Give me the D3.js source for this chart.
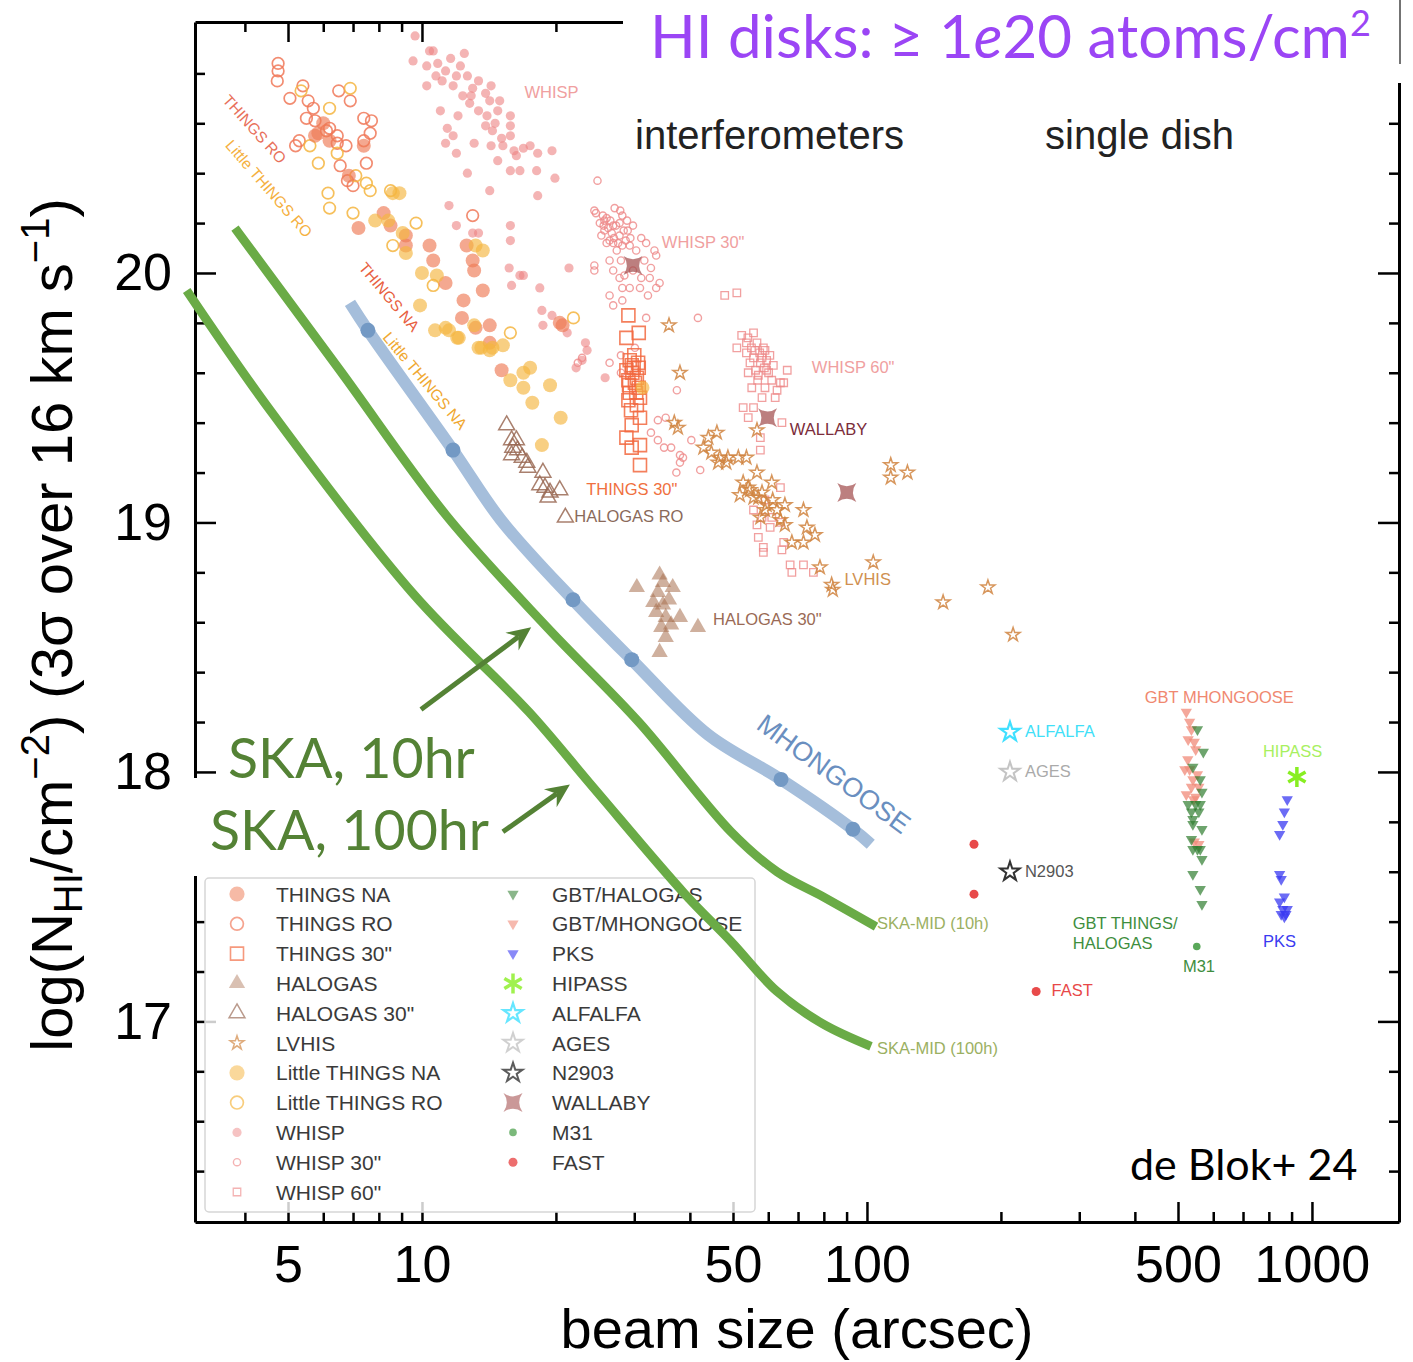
<!DOCTYPE html>
<html>
<head>
<meta charset="utf-8">
<script src="https://cdn.jsdelivr.net/npm/d3@7"></script>
<style>
  body { margin: 0; background: #fff; }
  svg { display: block; }
  text { font-family: "Liberation Sans", Arial, sans-serif; }
</style>
</head>
<body>
<svg id="chart"></svg>
<script>
// ---- data: [beam size (arcsec), log N_HI] ----
var thingsNA = [[5.85,20.56],[5.75,20.55],[6.0,20.6],[6.2,20.53],[7.4,20.51],[8.2,20.24],[7.2,20.18],[8.5,20.19],[9.2,20.11],
  [10.4,20.11],[10.6,20.05],[11.3,19.96],[12.6,20.11],[13.0,20.05],[13.1,20.01],[12.4,19.89],[13.7,19.93],[14.2,19.79],
  [15.1,19.61],[20.4,19.80],[6.85,20.39],[9.2,20.15],[20.7,19.79],[14.2,19.72],[12.3,19.82],[13.2,19.78]];
var thingsRO = [[4.75,20.84],[4.75,20.81],[4.73,20.77],[5.05,20.70],[5.4,20.75],[5.55,20.69],[5.7,20.66],[5.5,20.62],
  [5.75,20.61],[5.2,20.51],[6.2,20.58],[6.45,20.55],[6.45,20.52],[6.5,20.73],[6.9,20.69],[7.4,20.62],[7.7,20.61],
  [7.65,20.56],[7.4,20.53],[6.75,20.51],[6.55,20.43],[6.8,20.37],[7.0,20.35],[7.5,20.44],[13.0,20.23],[5.3,20.53],[6.1,20.57]];
var things30 = [[29.1,19.83],[30.7,19.76],[28.8,19.74],[29.6,19.63],[30.7,19.62],[28.8,19.61],[30.4,19.58],[29.1,19.57],
  [30.7,19.54],[29.3,19.52],[30.9,19.50],[29.1,19.49],[30.4,19.47],[30.9,19.42],[29.6,19.39],[28.8,19.34],[29.6,19.30],
  [30.9,19.31],[30.9,19.23],[30.0,19.67],[29.7,19.60],[30.1,19.56],[29.3,19.65],[29.9,19.62],[30.3,19.52],[29.5,19.45],
  [30.6,19.64],[29.2,19.55]];
var halogasRO = [[15.5,19.39],[15.9,19.33],[16.3,19.33],[16.0,19.30],[16.4,19.29],[15.9,19.27],[16.8,19.26],[17.2,19.24],
  [17.3,19.22],[18.7,19.20],[18.4,19.15],[18.9,19.14],[19.4,19.12],[20.4,19.13],[19.2,19.10]];
var halogas30 = [[30.4,18.74],[34.2,18.79],[36.6,18.74],[33.9,18.72],[33.1,18.68],[34.8,18.67],[35.9,18.69],[33.6,18.64],
  [35.3,18.62],[38.0,18.62],[36.3,18.59],[34.5,18.58],[41.7,18.58],[35.3,18.54],[34.2,18.48],[34.8,18.76]];
var lvhis = [[35.9,19.79],[38.0,19.60],[36.9,19.40],[37.6,19.38],[44.0,19.34],[46.0,19.36],[42.9,19.30],[44.7,19.28],
  [46.7,19.26],[48.7,19.26],[51.4,19.26],[53.6,19.26],[46.3,19.24],[48.3,19.24],[56.6,19.37],[56.6,19.20],[61.1,19.16],
  [52.7,19.16],[54.1,19.14],[51.8,19.11],[55.6,19.10],[58.1,19.12],[59.5,19.07],[62.8,19.05],[65.4,19.07],[63.9,19.01],
  [65.4,18.99],[72.0,19.05],[73.3,18.98],[76.4,18.95],[67.8,18.92],[72.0,18.92],[78.4,18.82],[83.3,18.75],[83.8,18.73],
  [103.3,18.84],[113.1,19.23],[113.1,19.18],[123.3,19.20],[187,18.74],[148.3,18.68],[213,18.55],
  [54.6,19.13],[57.0,19.10],[59.0,19.05],[61.4,19.09],[57.6,19.02]];
var littleNA = [[8.6,20.32],[8.9,20.32],[7.85,20.21],[8.4,20.21],[9.2,20.08],[10.0,20.00],[10.8,19.99],[9.9,19.87],
  [10.7,19.77],[11.5,19.77],[12.0,19.74],[13.1,19.79],[13.4,19.70],[14.2,19.69],[15.2,19.71],[17.5,19.62],[16.9,19.60],
  [13.2,20.11],[13.7,20.09],[9.05,20.16],[11.3,19.78],[12.1,19.74],[13.6,19.70],[14.4,19.70],[15.8,19.57],[16.9,19.54],
  [17.7,19.48],[19.4,19.55],[20.5,19.42],[18.6,19.31],[31.3,19.54]];
var littleRO = [[6.9,20.74],[6.2,20.66],[5.35,20.73],[5.6,20.51],[5.85,20.44],[6.15,20.32],[6.2,20.26],[7.0,20.24],
  [7.65,20.33],[8.5,20.33],[9.7,20.20],[8.6,20.11],[10.6,19.95],[15.8,19.76],[21.9,19.82],[6.45,20.48],[7.1,20.39],[7.5,20.36]];
var whisp = [[9.65,20.95],[10.4,20.89],[10.6,20.89],[9.55,20.85],[10.25,20.83],[10.85,20.84],[12.45,20.88],[10.75,20.79],
  [11.3,20.81],[11.95,20.79],[10.25,20.75],[11.1,20.77],[11.75,20.75],[12.65,20.79],[13.4,20.77],[14.3,20.75],[12.35,20.71],
  [12.9,20.71],[12.8,20.68],[13.4,20.65],[14.2,20.69],[14.95,20.69],[11.0,20.65],[12.05,20.63],[14.0,20.63],[14.8,20.65],
  [15.8,20.63],[13.9,20.59],[14.4,20.57],[15.8,20.59],[15.1,20.54],[15.8,20.55],[11.4,20.58],[11.75,20.55],[11.3,20.52],
  [13.1,20.52],[11.95,20.48],[14.3,20.51],[15.2,20.51],[16.1,20.49],[16.9,20.50],[17.5,20.51],[16.3,20.47],[18.2,20.48],
  [19.6,20.49],[14.8,20.45],[15.8,20.41],[16.6,20.41],[18.1,20.41],[19.9,20.38],[12.65,20.40],[14.2,20.33],[18.2,20.31],
  [11.5,20.27],[11.95,20.19],[15.8,20.19],[15.8,20.13],[13.0,20.16],[13.4,20.16],[21.4,20.02],[15.7,20.02],[16.6,19.99],
  [16.9,19.99],[15.9,19.95],[18.4,19.94],[18.6,19.85],[19.6,19.83],[18.7,19.79],[21.2,19.76],[23.3,19.72],[23.5,19.69],
  [22.9,19.65],[22.2,19.62],[25.8,19.58],[11.6,20.86],[12.2,20.83],[13.0,20.74],[13.9,20.72],[14.6,20.60]];
var whisp30 = [[24.6,20.24],[25.7,20.21],[27.1,20.26],[28.2,20.23],[25.7,20.17],[26.9,20.19],[25.3,20.15],[26.4,20.13],
  [27.8,20.15],[29.0,20.17],[29.8,20.19],[26.9,20.12],[26.0,20.12],[28.2,20.11],[29.3,20.11],[31.1,20.14],[31.9,20.12],
  [33.3,20.09],[33.6,20.07],[32.7,20.02],[31.6,20.05],[24.4,20.03],[24.4,20.01],[26.4,20.05],[26.9,20.01],[28.5,19.99],
  [29.8,20.01],[31.1,19.98],[32.5,19.98],[27.8,19.98],[34.2,19.96],[33.6,19.94],[30.9,19.94],[29.3,19.94],[28.2,19.94],
  [26.4,19.91],[28.2,19.89],[32.2,19.91],[26.9,19.87],[41.7,19.82],[31.9,19.82],[30.1,19.70],[28.0,19.67],[26.4,19.64],
  [28.0,19.60],[37.4,19.53],[33.9,19.41],[35.3,19.42],[32.7,19.36],[33.9,19.33],[35.0,19.30],[36.3,19.30],[38.0,19.27],
  [38.6,19.26],[40.3,19.33],[38.0,19.24],[37.3,19.20],[42.2,19.21],[24.8,20.37],[24.4,20.25],[25.5,20.23],[22.4,19.64],
  [22.9,19.66],[27.3,20.19],[26.7,20.16],[27.8,20.20],[28.7,20.13],[26.2,20.18],[27.4,20.09],
  [26.0,20.22],[27.0,20.14],[28.4,20.17],[25.6,20.19],[27.6,20.12],[26.5,20.21],[28.9,20.21],[25.1,20.20],
  [27.9,20.25],[29.4,20.14],[30.3,20.09],[28.0,20.05]];
var whisp60 = [[52.3,19.75],[55.6,19.76],[51.0,19.70],[53.6,19.72],[56.6,19.72],[59.0,19.69],[53.6,19.68],[55.6,19.66],
  [59.5,19.65],[61.6,19.63],[66.2,19.61],[54.1,19.60],[57.0,19.59],[61.1,19.57],[63.9,19.56],[55.1,19.54],[62.8,19.53],
  [65.0,19.56],[58.1,19.50],[62.2,19.50],[52.7,19.46],[55.6,19.46],[54.1,19.42],[64.4,19.40],[57.6,19.34],[57.6,19.29],
  [47.9,19.91],[51.0,19.92],[58.5,19.70],[57.6,19.64],[59.5,19.61],[63.9,19.14],[55.6,19.05],[59.0,19.09],[58.1,19.02],
  [60.6,18.98],[56.6,18.99],[57.0,18.94],[58.5,18.90],[58.5,18.88],[64.4,18.89],[65.0,18.92],[67.2,18.83],[67.8,18.80],
  [72.0,18.83],[75.8,18.80],[61.1,19.02],[63.9,19.00],[56.0,19.69],[58.1,19.66],[54.6,19.64],[60.1,19.60],[56.8,19.57],[59.0,19.54],
  [54.0,19.74],[57.4,19.68],[60.5,19.67],[55.0,19.70],[58.8,19.62],[56.2,19.61]];
var gbtHalogas = [[553,18.17],[570,18.08],[540,18.02],[561,17.97],[566,17.92],[548,17.87],[536,17.84],[540,17.81],
  [566,17.77],[536,17.73],[553,17.69],[540,17.69],[561,17.69],[566,17.65],[540,17.59],[561,17.53],[566,17.47],
  [561,17.87],[527,17.87],[557,17.84],[540,17.79]];
var gbtMhongoose = [[522,18.24],[531,18.20],[536,18.17],[527,18.13],[544,18.12],[548,18.09],[531,18.01],[553,17.99],
  [540,17.97],[522,17.91],[548,17.90],[557,17.94],[536,17.94],[557,17.71],[544,17.72],[518,18.01],[526,18.05],[542,17.89]];
var pks = [[880,17.89],[867,17.84],[860,17.79],[846,17.75],[846,17.59],[853,17.57],[867,17.50],[846,17.48],[860,17.45],
  [880,17.45],[867,17.42],[853,17.43],[874,17.43]];
var hipass = [[925,17.98]];
var alfalfa = [[209.6,18.16]];
var ages = [[209.6,18.00]];
var n2903 = [[209.6,17.60]];
var wallaby = [[29.8,20.03],[59.8,19.42],[90.1,19.12]];
var m31 = [[551,17.30]];
var fast = [[174,17.71],[174,17.51],[240,17.12]];

var mhongooseLine = [[6.89,19.88],[7.56,19.77],[11.74,19.29],[15.05,19.01],[21.85,18.69],[29.6,18.45],
  [43.9,18.15],[64.1,17.97],[93.0,17.77],[102,17.71]];
var mhongooseDots = [[7.56,19.77],[11.74,19.29],[21.85,18.69],[29.6,18.45],[64.1,17.97],[93.0,17.77]];
var ska10 = [[3.80,20.18],[6.54,19.61],[11.32,19.03],[19.1,18.58],[30.7,18.20],[49.5,17.76],[62.8,17.60],[79.6,17.50],[104.8,17.38]];
var ska100 = [[2.96,19.93],[4.60,19.44],[9.60,18.71],[17.4,18.24],[24.2,17.94],[39.0,17.51],[49.5,17.32],[62.8,17.12],[79.6,16.99],[102.1,16.90]];

var xMajor = [5, 10, 50, 100, 500, 1000];
var xMinor = [4, 6, 7, 8, 9, 20, 30, 40, 60, 70, 80, 90, 200, 300, 400, 600, 700, 800, 900];
var yMajor = [17, 18, 19, 20];
var yMinor = [16.4, 16.6, 16.8, 17.2, 17.4, 17.6, 17.8, 18.2, 18.4, 18.6, 18.8, 19.2, 19.4, 19.6, 19.8, 20.2, 20.4, 20.6, 20.8];

// ---- layout ----
var width = 1413, height = 1362;
var plot = { left: 195, right: 1399, top: 22, bottom: 1222 };
var slideFont = "Lato, 'Open Sans', sans-serif";

var svg = d3.select("#chart").attr("width", width).attr("height", height);

var xScale = d3.scaleLog().domain([3.09, 1569]).range([plot.left, plot.right]);
var yScale = d3.scaleLinear().domain([16.196, 21.006]).range([plot.bottom, plot.top]);

function styleAxis(g, showDomain) {
  g.select(".domain").attr("stroke", showDomain ? "#000" : "none").attr("stroke-width", 3);
  g.selectAll(".tick line").attr("stroke", "#000").attr("stroke-width", 2.5);
  g.selectAll(".tick text").attr("font-size", 52).attr("fill", "#000");
}

// bottom
svg.append("g").attr("transform", "translate(0," + plot.bottom + ")")
  .call(d3.axisBottom(xScale).tickValues(xMinor).tickSize(-10).tickSizeOuter(0).tickFormat(""))
  .call(styleAxis, false);
svg.append("g").attr("transform", "translate(0," + plot.bottom + ")")
  .call(d3.axisBottom(xScale).tickValues(xMajor).tickSize(-20).tickSizeOuter(0).tickPadding(23).tickFormat(d3.format("d")))
  .call(styleAxis, true);
// top
svg.append("g").attr("transform", "translate(0," + plot.top + ")")
  .call(d3.axisTop(xScale).tickValues(xMinor).tickSize(-10).tickSizeOuter(0).tickFormat(""))
  .call(styleAxis, false);
svg.append("g").attr("transform", "translate(0," + plot.top + ")")
  .call(d3.axisTop(xScale).tickValues(xMajor).tickSize(-20).tickSizeOuter(0).tickFormat(""))
  .call(styleAxis, true);
// left
svg.append("g").attr("transform", "translate(" + plot.left + ",0)")
  .call(d3.axisLeft(yScale).tickValues(yMinor).tickSize(-10).tickSizeOuter(0).tickFormat(""))
  .call(styleAxis, false);
svg.append("g").attr("transform", "translate(" + plot.left + ",0)")
  .call(d3.axisLeft(yScale).tickValues(yMajor).tickSize(-21).tickSizeOuter(0).tickPadding(23).tickFormat(d3.format("d")))
  .call(styleAxis, true);
// right
svg.append("g").attr("transform", "translate(" + plot.right + ",0)")
  .call(d3.axisRight(yScale).tickValues(yMinor).tickSize(-10).tickSizeOuter(0).tickFormat(""))
  .call(styleAxis, false);
svg.append("g").attr("transform", "translate(" + plot.right + ",0)")
  .call(d3.axisRight(yScale).tickValues(yMajor).tickSize(-21).tickSizeOuter(0).tickFormat(""))
  .call(styleAxis, true);

// axis titles
svg.append("text").attr("x", 797).attr("y", 1348).attr("text-anchor", "middle")
  .attr("font-size", 56).text("beam size (arcsec)");

var ylab = svg.append("text").attr("transform", "translate(72,625) rotate(-90)")
  .attr("text-anchor", "middle").attr("font-size", 58);
ylab.append("tspan").text("log(N");
ylab.append("tspan").attr("font-size", 40).attr("dy", 10).text("HI");
ylab.append("tspan").attr("dy", -10).text("/cm");
ylab.append("tspan").attr("font-size", 40).attr("dy", -23).text("\u22122");
ylab.append("tspan").attr("dy", 23).text(") (3\u03c3 over 16 km s");
ylab.append("tspan").attr("font-size", 40).attr("dy", -23).text("\u22121");
ylab.append("tspan").attr("dy", 23).text(")");

// ---- markers ----
function shapePath(shape, s) {
  if (shape === "circle") return d3.symbol().type(d3.symbolCircle).size(Math.PI * s * s)();
  if (shape === "tri") return d3.symbol().type(d3.symbolTriangle).size(s)();
  if (shape === "star") return d3.symbol().type(d3.symbolStar).size(s)();
  if (shape === "blob") return d3.symbol().type(d3.symbolTriangle).size(s)();
  if (shape === "square") { var h = s / 2; return "M" + (-h) + "," + (-h) + "h" + s + "v" + s + "h" + (-s) + "Z"; }
  if (shape === "astroid") {
    var r = s, k = r * 0.3;
    return "M" + (-r) + "," + (-r) + "Q0," + (-k) + " " + r + "," + (-r) + "Q" + k + ",0 " + r + "," + r +
      "Q0," + k + " " + (-r) + "," + r + "Q" + (-k) + ",0 " + (-r) + "," + (-r) + "Z";
  }
  if (shape === "asterisk") {
    var p = "";
    [90, 30, -30].forEach(function(a) {
      var dx = s * Math.cos(a * Math.PI / 180), dy = s * Math.sin(a * Math.PI / 180);
      p += "M" + (-dx) + "," + (-dy) + "L" + dx + "," + dy;
    });
    return p;
  }
}

function drawMarks(g, data, st) {
  g.selectAll(null).data(data).enter().append("path")
    .attr("d", shapePath(st.shape, st.size))
    .attr("transform", function(d) {
      return "translate(" + xScale(d[0]) + "," + yScale(d[1]) + ")" + (st.shape === "blob" ? " rotate(180)" : "");
    })
    .attr("fill", st.filled ? st.color : "none")
    .attr("stroke", st.filled ? "none" : st.color)
    .attr("stroke-width", st.sw || 1.5)
    .attr("opacity", st.alpha || 1);
}

var styles = {
  whisp: { shape: "circle", size: 4.6, color: "#ec8282", filled: true, alpha: 0.6 },
  whisp30: { shape: "circle", size: 3.6, color: "#ee8888", filled: false, sw: 1.4, alpha: 0.8 },
  whisp60: { shape: "square", size: 7.5, color: "#ee8888", filled: false, sw: 1.3, alpha: 0.8 },
  lvhis: { shape: "star", size: 60, color: "#d08440", filled: false, sw: 1.5, alpha: 0.85 },
  things30: { shape: "square", size: 13, color: "#f2693f", filled: false, sw: 1.6, alpha: 0.85 },
  thingsRO: { shape: "circle", size: 5.8, color: "#f07858", filled: false, sw: 1.7, alpha: 0.85 },
  littleRO: { shape: "circle", size: 5.8, color: "#f5b53f", filled: false, sw: 1.7, alpha: 0.85 },
  thingsNA: { shape: "circle", size: 7, color: "#ee7a55", filled: true, alpha: 0.65 },
  littleNA: { shape: "circle", size: 7, color: "#f5b53f", filled: true, alpha: 0.65 },
  halogas30: { shape: "tri", size: 115, color: "#a8704f", filled: true, alpha: 0.55 },
  halogasRO: { shape: "tri", size: 110, color: "#9a6a55", filled: false, sw: 1.5, alpha: 0.85 },
  wallaby: { shape: "astroid", size: 9.5, color: "#a04848", filled: true, alpha: 0.7 },
  gbtHalogas: { shape: "blob", size: 55, color: "#2f7d2f", filled: true, alpha: 0.7 },
  gbtMhongoose: { shape: "blob", size: 55, color: "#f08a78", filled: true, alpha: 0.75 },
  pks: { shape: "blob", size: 55, color: "#3a3af2", filled: true, alpha: 0.75 },
  hipass: { shape: "asterisk", size: 10, color: "#88ee22", filled: false, sw: 3.5 },
  alfalfa: { shape: "star", size: 115, color: "#40e0ff", filled: false, sw: 2.2 },
  ages: { shape: "star", size: 115, color: "#c4c4c4", filled: false, sw: 2 },
  n2903: { shape: "star", size: 115, color: "#333333", filled: false, sw: 2 },
  m31: { shape: "circle", size: 3.8, color: "#5aa85a", filled: true },
  fast: { shape: "circle", size: 4.5, color: "#e84a4a", filled: true }
};

var marks = svg.append("g");
drawMarks(marks, whisp, styles.whisp);
drawMarks(marks, whisp30, styles.whisp30);
drawMarks(marks, whisp60, styles.whisp60);
drawMarks(marks, lvhis, styles.lvhis);
drawMarks(marks, things30, styles.things30);
drawMarks(marks, thingsRO, styles.thingsRO);
drawMarks(marks, littleRO, styles.littleRO);
drawMarks(marks, thingsNA, styles.thingsNA);
drawMarks(marks, littleNA, styles.littleNA);
drawMarks(marks, halogas30, styles.halogas30);
drawMarks(marks, halogasRO, styles.halogasRO);
drawMarks(marks, wallaby, styles.wallaby);
drawMarks(marks, gbtMhongoose, styles.gbtMhongoose);
drawMarks(marks, gbtHalogas, styles.gbtHalogas);
drawMarks(marks, pks, styles.pks);
drawMarks(marks, hipass, styles.hipass);
drawMarks(marks, alfalfa, styles.alfalfa);
drawMarks(marks, ages, styles.ages);
drawMarks(marks, n2903, styles.n2903);
drawMarks(marks, m31, styles.m31);
drawMarks(marks, fast, styles.fast);

var line = d3.line().x(function(d) { return xScale(d[0]); }).y(function(d) { return yScale(d[1]); })
  .curve(d3.curveCatmullRom);

// MHONGOOSE sensitivity curve
svg.append("path").datum(mhongooseLine).attr("d", line).attr("fill", "none")
  .attr("stroke", "#a5bedb").attr("stroke-width", 12);
svg.selectAll(".mdot").data(mhongooseDots).enter().append("circle").attr("class", "mdot")
  .attr("cx", function(d) { return xScale(d[0]); }).attr("cy", function(d) { return yScale(d[1]); })
  .attr("r", 7.5).attr("fill", "#7399c4");

// ---- legend ----
var legendLeft = [["THINGS NA", styles.thingsNA], ["THINGS RO", styles.thingsRO], ["THINGS 30\"", styles.things30],
  ["HALOGAS", styles.halogas30], ["HALOGAS 30\"", styles.halogasRO], ["LVHIS", styles.lvhis],
  ["Little THINGS NA", styles.littleNA], ["Little THINGS RO", styles.littleRO], ["WHISP", styles.whisp],
  ["WHISP 30\"", styles.whisp30], ["WHISP 60\"", styles.whisp60]];
var legendRight = [["GBT/HALOGAS", styles.gbtHalogas], ["GBT/MHONGOOSE", styles.gbtMhongoose], ["PKS", styles.pks],
  ["HIPASS", styles.hipass], ["ALFALFA", styles.alfalfa], ["AGES", styles.ages], ["N2903", styles.n2903],
  ["WALLABY", styles.wallaby], ["M31", styles.m31], ["FAST", styles.fast]];

var legend = svg.append("g");
legend.append("rect").attr("x", 205).attr("y", 878).attr("width", 550).attr("height", 334).attr("rx", 4)
  .attr("fill", "#fff").attr("fill-opacity", 0.8).attr("stroke", "#d6d6d6").attr("stroke-width", 1.5);
[[legendLeft, 237, 276], [legendRight, 513, 552]].forEach(function(col) {
  col[0].forEach(function(item, i) {
    var cy = 894 + i * 29.8;
    var st = item[1];
    legend.append("path").attr("d", shapePath(st.shape, st.shape === "circle" && st.size > 5 ? st.size + 0.6 : st.size))
      .attr("transform", "translate(" + col[1] + "," + cy + ")" + (st.shape === "blob" ? " rotate(180)" : ""))
      .attr("fill", st.filled ? st.color : "none").attr("stroke", st.filled ? "none" : st.color)
      .attr("stroke-width", st.sw || 1.5).attr("opacity", (st.alpha || 1) * 0.8);
    legend.append("text").attr("x", col[2]).attr("y", cy).attr("dy", "0.36em")
      .attr("font-size", 21).attr("fill", "#3a3a3a").text(item[0]);
  });
});

// SKA-MID curves
svg.append("path").datum(ska10).attr("d", line).attr("fill", "none").attr("stroke", "#6aab46").attr("stroke-width", 9);
svg.append("path").datum(ska100).attr("d", line).attr("fill", "none").attr("stroke", "#6aab46").attr("stroke-width", 9);

// ---- labels ----
function label(txt, b, v, color, size, rot) {
  var t = svg.append("text").attr("font-size", size || 16.5).attr("fill", color).text(txt);
  if (rot) t.attr("transform", "translate(" + xScale(b) + "," + yScale(v) + ") rotate(" + rot + ")");
  else t.attr("x", xScale(b)).attr("y", yScale(v));
  return t;
}
label("WHISP", 17.0, 20.70, "#f0a0a0");
label("WHISP 30\"", 34.6, 20.10, "#f0a0a0");
label("WHISP 60\"", 75.2, 19.60, "#f0a0a0");
label("WALLABY", 67.1, 19.35, "#7b2d3b");
label("THINGS 30\"", 23.4, 19.11, "#f07040");
label("HALOGAS RO", 22.0, 19.00, "#8a6a5a");
drawMarks(svg.append("g"), [[21.0, 19.02]], styles.halogasRO);
label("HALOGAS 30\"", 45.1, 18.59, "#9a6a55");
label("LVHIS", 89, 18.75, "#d09050");
label("GBT MHONGOOSE", 421, 18.277, "#f08870");
label("ALFALFA", 226.5, 18.14, "#40e0f8");
label("AGES", 226.5, 17.98, "#aaaaaa");
label("N2903", 226.5, 17.58, "#555555");
label("HIPASS", 776, 18.06, "#a8f060");
label("GBT THINGS/", 290, 17.37, "#3e8e3e");
label("HALOGAS", 290, 17.29, "#3e8e3e");
label("M31", 513, 17.20, "#3e8e3e");
label("PKS", 776, 17.30, "#3a3af0");
label("FAST", 260, 17.10, "#e84848");
label("SKA-MID (10h)", 105.3, 17.37, "#9bb062");
label("SKA-MID (100h)", 105.3, 16.87, "#9bb062");
label("THINGS RO", 3.55, 20.69, "#e8705a", 15.5, 48);
label("Little THINGS RO", 3.6, 20.51, "#f5b040", 15.5, 49);
label("THINGS NA", 7.18, 20.02, "#e8603f", 15.5, 50);
label("Little THINGS NA", 8.13, 19.74, "#f0a830", 15.5, 50);
label("MHONGOOSE", 56.0, 18.176, "#6a8fc0", 27, 36);

svg.append("text").attr("x", 635).attr("y", 149).attr("font-size", 40).attr("fill", "#222").text("interferometers");
svg.append("text").attr("x", 1045).attr("y", 149).attr("font-size", 40).attr("fill", "#222").text("single dish");

// ---- overlay boxes and slide annotations ----
svg.append("rect").attr("x", 623).attr("y", 0).attr("width", 790).attr("height", 83).attr("fill", "#fff");
svg.append("line").attr("x1", 1400).attr("x2", 1400).attr("y1", 0).attr("y2", 64).attr("stroke", "#444").attr("stroke-width", 1.5);
svg.append("rect").attr("x", 185).attr("y", 778).attr("width", 315).attr("height", 98).attr("fill", "#fff");

var title = svg.append("text").attr("x", 650).attr("y", 58).attr("font-size", 60).attr("fill", "#9b45f5")
  .style("font-family", slideFont);
title.append("tspan").text("HI disks: \u2265 1");
title.append("tspan").attr("font-style", "italic").text("e");
title.append("tspan").text("20 atoms/cm");
title.append("tspan").attr("font-size", 36).attr("dy", -22).text("2");

svg.append("text").attr("x", 228).attr("y", 778).attr("font-size", 55.5).attr("fill", "#548235")
  .style("font-family", slideFont).text("SKA, 10hr");
svg.append("text").attr("x", 210).attr("y", 850).attr("font-size", 55.5).attr("fill", "#548235")
  .style("font-family", slideFont).text("SKA, 100hr");
svg.append("text").attr("x", 1130).attr("y", 1180).attr("font-size", 43).attr("fill", "#000")
  .style("font-family", slideFont).text("de Blok+ 24");

// arrows
function arrow(from, to) {
  var x1 = xScale(from[0]), y1 = yScale(from[1]), x2 = xScale(to[0]), y2 = yScale(to[1]);
  var a = Math.atan2(y2 - y1, x2 - x1), c = Math.cos(a), s = Math.sin(a);
  var L = 24, Wd = 11, N = 16;
  svg.append("line").attr("x1", x1).attr("y1", y1).attr("x2", x2 - N * c).attr("y2", y2 - N * s)
    .attr("stroke", "#548235").attr("stroke-width", 5);
  var pts = [[x2, y2], [x2 - L * c + Wd * s, y2 - L * s - Wd * c], [x2 - N * c, y2 - N * s], [x2 - L * c - Wd * s, y2 - L * s + Wd * c]];
  svg.append("path").attr("d", "M" + pts.join("L") + "Z").attr("fill", "#548235");
}
arrow([9.95, 18.25], [17.6, 18.58]);
arrow([15.2, 17.76], [21.5, 17.95]);
</script>
</body>
</html>
